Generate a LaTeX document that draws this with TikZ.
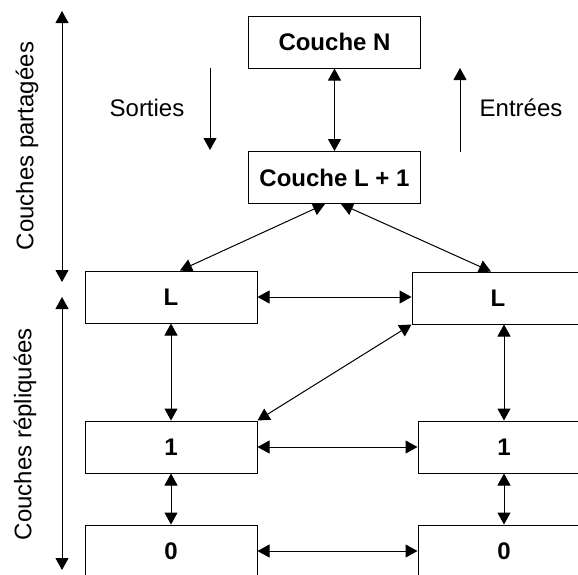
\documentclass[tikz,border=0pt]{standalone}
\usepackage{fontspec}
\setmainfont{Liberation Sans}
\usetikzlibrary{arrows.meta}
\pgfdeclarelayer{nodelayer}
\pgfdeclarelayer{edgelayer}
\pgfsetlayers{edgelayer,nodelayer,main}
\tikzstyle{none}=[inner sep=0pt]
\tikzstyle{layer}=[draw, line width=0.5pt, minimum width=86pt, minimum height=26pt, inner sep=0pt, font=\fontsize{12}{14}\selectfont\bfseries]
\tikzstyle{tip}=[-{Triangle[length=6pt,width=6.5pt]}, line width=0.5pt]
\tikzstyle{both}=[{Triangle[length=6pt,width=6.5pt]}-{Triangle[length=6pt,width=6.5pt]}, line width=0.5pt]
\begin{document}
\begin{tikzpicture}[x=0.5pt, y=-0.5pt, font=\fontsize{12}{14}\selectfont]
    \clip (0,0) rectangle (578,574);
    \begin{pgfonlayer}{nodelayer}
        \node [style=layer] (0) at (334.5, 42) {Couche N};
        \node [style=layer] (1) at (334.5, 177.5) {Couche L + 1};
        \node [style=layer] (2) at (171, 297) {L};
        \node [style=layer] (3) at (498, 298) {L};
        \node [style=layer] (4) at (171, 447) {1};
        \node [style=layer] (5) at (504, 447) {1};
        \node [style=layer] (6) at (171, 551) {0};
        \node [style=layer] (7) at (504, 551) {0};
        \node [style=none] (8) at (147, 108) {Sorties};
        \node [style=none] (9) at (521, 108) {Entrées};
        \node [style=none, rotate=90] (10) at (27, 146) {Couches partagées};
        \node [style=none, rotate=90] (11) at (25, 434) {Couches répliquées};
        \coordinate (12) at (210, 68);
        \coordinate (13) at (210, 150);
        \coordinate (14) at (460, 152);
        \coordinate (15) at (460, 68);
        \coordinate (16) at (62, 11);
        \coordinate (17) at (62, 282);
        \coordinate (18) at (62, 297);
        \coordinate (19) at (62, 570);
    \end{pgfonlayer}
    \begin{pgfonlayer}{edgelayer}
        \draw [style=tip] (12) to (13);
        \draw [style=tip] (14) to (15);
        \draw [style=both] (16) to (17);
        \draw [style=both] (18) to (19);
        \draw [style=both] (0.south) to (1.north);
        \draw [style=both] ([xshift=-4.75pt]1.south) to ([xshift=4.5pt]2.north);
        \draw [style=both] ([xshift=3.25pt]1.south) to ([xshift=-3.5pt]3.north);
        \draw [style=both] (2.east) to (2.east -| 3.west);
        \draw [style=both] (4.east) to (5.west);
        \draw [style=both] (6.east) to (7.west);
        \draw [style=both] (2.south) to (4.north);
        \draw [style=both] (4.south) to (6.north);
        \draw [style=both] (5.north |- 3.south) to (5.north);
        \draw [style=both] (5.south) to (7.north);
        \draw [style=both] (4.north east) to (3.south west);
    \end{pgfonlayer}
\end{tikzpicture}
\end{document}
